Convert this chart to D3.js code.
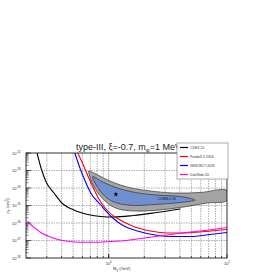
<!DOCTYPE html>
<html>
<head>
<meta charset="utf-8">
<script src="https://cdn.jsdelivr.net/npm/d3@7"></script>
<style>
  body { margin: 0; background: #fff; }
  text { font-family: 'Liberation Sans', Arial, sans-serif; }
</style>
</head>
<body>
<div id="chart"></div>
<script>
// mass in GeV, cross-section in cm^2
const cdexM = [0.248, 0.268, 0.296, 0.345, 0.395, 0.508, 0.667, 0.857, 1.10, 1.62, 2.39, 4.03];
const cdexS = [1e-32, 1.39e-33, 2.2e-34, 5.18e-35, 1.58e-35, 5.53e-36, 3.06e-36, 2.35e-36, 2.2e-36, 2.69e-36, 3.72e-36, 6.3e-36];

const pandaM = [0.548, 0.605, 0.679, 0.762, 0.857, 0.98, 1.19, 1.62, 2.25, 3.13, 4.27, 5.93, 10];
const pandaS = [1e-32, 2.35e-33, 3.72e-34, 6.75e-35, 1.58e-35, 4.85e-36, 1.81e-36, 6.3e-37, 3.49e-37, 2.69e-37, 2.69e-37, 3.06e-37, 4.26e-37];

const xenonM = [0.518, 0.548, 0.617, 0.706, 0.857, 1.04, 1.26, 1.75, 2.48, 3.45, 4.89, 7.20, 10];
const xenonS = [1e-32, 3.06e-33, 3.72e-34, 5.18e-35, 1.07e-35, 2.51e-36, 8.77e-37, 3.49e-37, 2.06e-37, 1.69e-37, 1.69e-37, 2.2e-37, 2.86e-37];

const darksideM = [0.205, 0.221, 0.244, 0.268, 0.307, 0.359, 0.435, 0.582, 0.778, 1.04, 1.39, 1.86, 2.48, 3.45, 4.89, 6.53, 10];
const darksideS = [1.3e-36, 7.69e-37, 4.54e-37, 2.79e-37, 1.81e-37, 1.22e-37, 9.35e-38, 7.88e-38, 7.88e-38, 8.77e-38, 1e-37, 1.3e-37, 1.69e-37, 2.26e-37, 3.06e-37, 3.72e-37, 5.53e-37];

// CDMS-II-Si regions (outer = gray, inner = blue), closed contours
const cdmsOuterM = [0.679, 0.778, 0.981, 1.26, 1.62, 2.25, 3.52, 5.93, 10, 10, 6.79, 4.03, 2.39, 1.62, 1.21, 1.0, 0.824, 0.720, 0.679];
const cdmsOuterS = [9.35e-34, 6.3e-34, 2.86e-34, 1.48e-34, 9.35e-35, 6.75e-35, 5.18e-35, 5.53e-35, 7.2e-35, 1.93e-35, 1.39e-35, 7.69e-36, 5.18e-36, 4.85e-36, 6.3e-36, 1.22e-35, 4.54e-35, 2.2e-34, 7.2e-34];
const cdmsInnerM = [0.734, 0.857, 1.04, 1.26, 1.69, 2.25, 3.01, 4.03, 5.38, 4.03, 3.01, 2.25, 1.69, 1.26, 1.04, 0.890, 0.793, 0.734];
const cdmsInnerS = [4.54e-34, 2.51e-34, 1.39e-34, 8.77e-35, 5.53e-35, 4.26e-35, 3.72e-35, 3.26e-35, 2.06e-35, 1.48e-35, 1.25e-35, 1.1e-35, 1e-35, 1.22e-35, 1.93e-35, 4.54e-35, 1.3e-34, 3.72e-34];
const bestFitM = 1.15;
const bestFitS = 4.37e-35;

const series = [
  { name: 'CDEX-10', m: cdexM, s: cdexS, color: '#000000' },
  { name: 'PandaX-II 2016', m: pandaM, s: pandaS, color: '#ff0000' },
  { name: 'XENON1T-2018', m: xenonM, s: xenonS, color: '#0000ff' },
  { name: 'DarkSide-50', m: darksideM, s: darksideS, color: '#ff00ff' },
];

const yExps = [-38, -37, -36, -35, -34, -33, -32];
const xMajor = [1, 10];

const svg = d3.select('#chart').append('svg')
  .attr('width', 273)
  .attr('height', 273);

const x = d3.scaleLog().domain([0.2, 10]).range([26, 227]);
const y = d3.scaleLog().domain([1e-38, 1e-32]).range([258, 153]);

svg.append('clipPath').attr('id', 'clip')
  .append('rect')
  .attr('x', 26).attr('y', 153)
  .attr('width', 201).attr('height', 105);

// grid
const xMinor = [];
[0.1, 1].forEach((d) => {
  for (let k = 1; k <= 9; k++) {
    const v = d * k;
    if (v > 0.2 && v < 10) xMinor.push(v);
  }
});
svg.append('g').selectAll('line')
  .data(xMinor)
  .enter()
  .append('line')
  .attr('x1', d => x(d)).attr('x2', d => x(d))
  .attr('y1', 153).attr('y2', 258)
  .attr('stroke', d => (d === 1 ? '#777' : '#999'))
  .attr('stroke-width', 0.8)
  .attr('stroke-dasharray', '1.5,1');
svg.append('g').selectAll('line')
  .data(yExps.slice(1, -1))
  .enter()
  .append('line')
  .attr('x1', 26).attr('x2', 227)
  .attr('y1', d => y(Math.pow(10, d))).attr('y2', d => y(Math.pow(10, d)))
  .attr('stroke', '#999')
  .attr('stroke-width', 0.8)
  .attr('stroke-dasharray', '1.5,1');

const plot = svg.append('g').attr('clip-path', 'url(#clip)');
const area = d3.line().x(d => x(d[0])).y(d => y(d[1])).curve(d3.curveCatmullRomClosed);

// CDMS-II-Si regions
plot.append('path')
  .datum(d3.zip(cdmsOuterM, cdmsOuterS))
  .attr('d', area)
  .attr('fill', '#a4a4a4')
  .attr('stroke', '#333')
  .attr('stroke-width', 0.7);
plot.append('path')
  .datum(d3.zip(cdmsInnerM, cdmsInnerS))
  .attr('d', area)
  .attr('fill', '#6f8fd0')
  .attr('stroke', '#333')
  .attr('stroke-width', 0.7);
plot.append('path')
  .attr('d', d3.symbol(d3.symbolStar, 8)())
  .attr('transform', `translate(${x(bestFitM)},${y(bestFitS)})`)
  .attr('fill', '#000');
plot.append('text')
  .attr('x', x(2.6))
  .attr('y', y(2.2e-35))
  .attr('font-size', 3.6)
  .attr('fill', '#111')
  .text('CDMS-II-Si');

// limit curves
const line = d3.line().x(d => x(d[0])).y(d => y(d[1])).curve(d3.curveMonotoneX);
series.forEach((s) => {
  plot.append('path')
    .datum(d3.zip(s.m, s.s))
    .attr('d', line)
    .attr('fill', 'none')
    .attr('stroke', s.color)
    .attr('stroke-width', 1.1);
});

// frame and axis ticks
svg.append('rect')
  .attr('x', 26).attr('y', 153)
  .attr('width', 201).attr('height', 105)
  .attr('fill', 'none')
  .attr('stroke', '#000')
  .attr('stroke-width', 0.8);

const yMinor = [];
yExps.slice(0, -1).forEach((e) => {
  for (let k = 2; k <= 9; k++) yMinor.push(k * Math.pow(10, e));
});
svg.append('g').selectAll('line')
  .data(yMinor)
  .enter()
  .append('line')
  .attr('x1', 26).attr('x2', 28.5)
  .attr('y1', d => y(d)).attr('y2', d => y(d))
  .attr('stroke', '#000')
  .attr('stroke-width', 0.5);
svg.append('g').selectAll('line')
  .data(yExps)
  .enter()
  .append('line')
  .attr('x1', 26).attr('x2', 31)
  .attr('y1', d => y(Math.pow(10, d))).attr('y2', d => y(Math.pow(10, d)))
  .attr('stroke', '#000')
  .attr('stroke-width', 0.6);
svg.append('g').selectAll('line')
  .data(xMinor.concat(xMajor))
  .enter()
  .append('line')
  .attr('x1', d => x(d)).attr('x2', d => x(d))
  .attr('y1', 258).attr('y2', d => (xMajor.includes(d) ? 254 : 256))
  .attr('stroke', '#000')
  .attr('stroke-width', 0.6);

// tick labels
const yLab = svg.append('g').selectAll('text')
  .data(yExps)
  .enter()
  .append('text')
  .attr('x', 20.5)
  .attr('y', d => y(Math.pow(10, d)) + 1.5)
  .attr('text-anchor', 'end')
  .attr('font-size', 4)
  .attr('fill', '#333');
yLab.append('tspan').text('10');
yLab.append('tspan').attr('dy', -1.6).attr('font-size', 2.8).text(d => `${d}`);

const xLab = svg.append('g').selectAll('text')
  .data(xMajor)
  .enter()
  .append('text')
  .attr('x', d => x(d) - 3)
  .attr('y', 265)
  .attr('font-size', 4)
  .attr('fill', '#333');
xLab.append('tspan').text('10');
xLab.append('tspan').attr('dy', -1.6).attr('font-size', 2.8).text(d => `${Math.round(Math.log10(d))}`);

// axis titles
const xt = svg.append('text')
  .attr('x', 113).attr('y', 270)
  .attr('font-size', 4.2)
  .attr('fill', '#333');
xt.append('tspan').text('M');
xt.append('tspan').attr('dy', 1).attr('font-size', 3).text('χ');
xt.append('tspan').attr('dy', -1).text(' (GeV)');

const yt = svg.append('text')
  .attr('transform', 'translate(8.5,206) rotate(-90)')
  .attr('text-anchor', 'middle')
  .attr('font-size', 4.2)
  .attr('fill', '#333');
yt.append('tspan').text('σ');
yt.append('tspan').attr('dy', 1).attr('font-size', 3).text('p');
yt.append('tspan').attr('dy', -1).text(' (cm');
yt.append('tspan').attr('dy', -1.5).attr('font-size', 3).text('2');
yt.append('tspan').attr('dy', 1.5).text(')');

// title
const title = svg.append('text')
  .attr('x', 76).attr('y', 149.5)
  .attr('font-size', 9)
  .attr('fill', '#222');
title.append('tspan').text('type-III, ξ=-0.7, m');
title.append('tspan').attr('dy', 2).attr('font-size', 6).text('φ');
title.append('tspan').attr('dy', -2).text('=1 MeV');

// legend
const leg = svg.append('g').attr('transform', 'translate(177,143)');
leg.append('rect')
  .attr('width', 51).attr('height', 36)
  .attr('fill', '#fff')
  .attr('stroke', '#777')
  .attr('stroke-width', 0.6);
const item = leg.selectAll('.item')
  .data(series)
  .enter()
  .append('g')
  .attr('class', 'item')
  .attr('transform', (d, i) => `translate(0,${4.5 + (i * 9)})`);
item.append('line')
  .attr('x1', 3).attr('x2', 11)
  .attr('stroke', d => d.color)
  .attr('stroke-width', 1.2);
item.append('text')
  .attr('x', 13).attr('y', 1.2)
  .attr('font-size', 3.4)
  .attr('fill', '#333')
  .text(d => d.name);
</script>
</body>
</html>
